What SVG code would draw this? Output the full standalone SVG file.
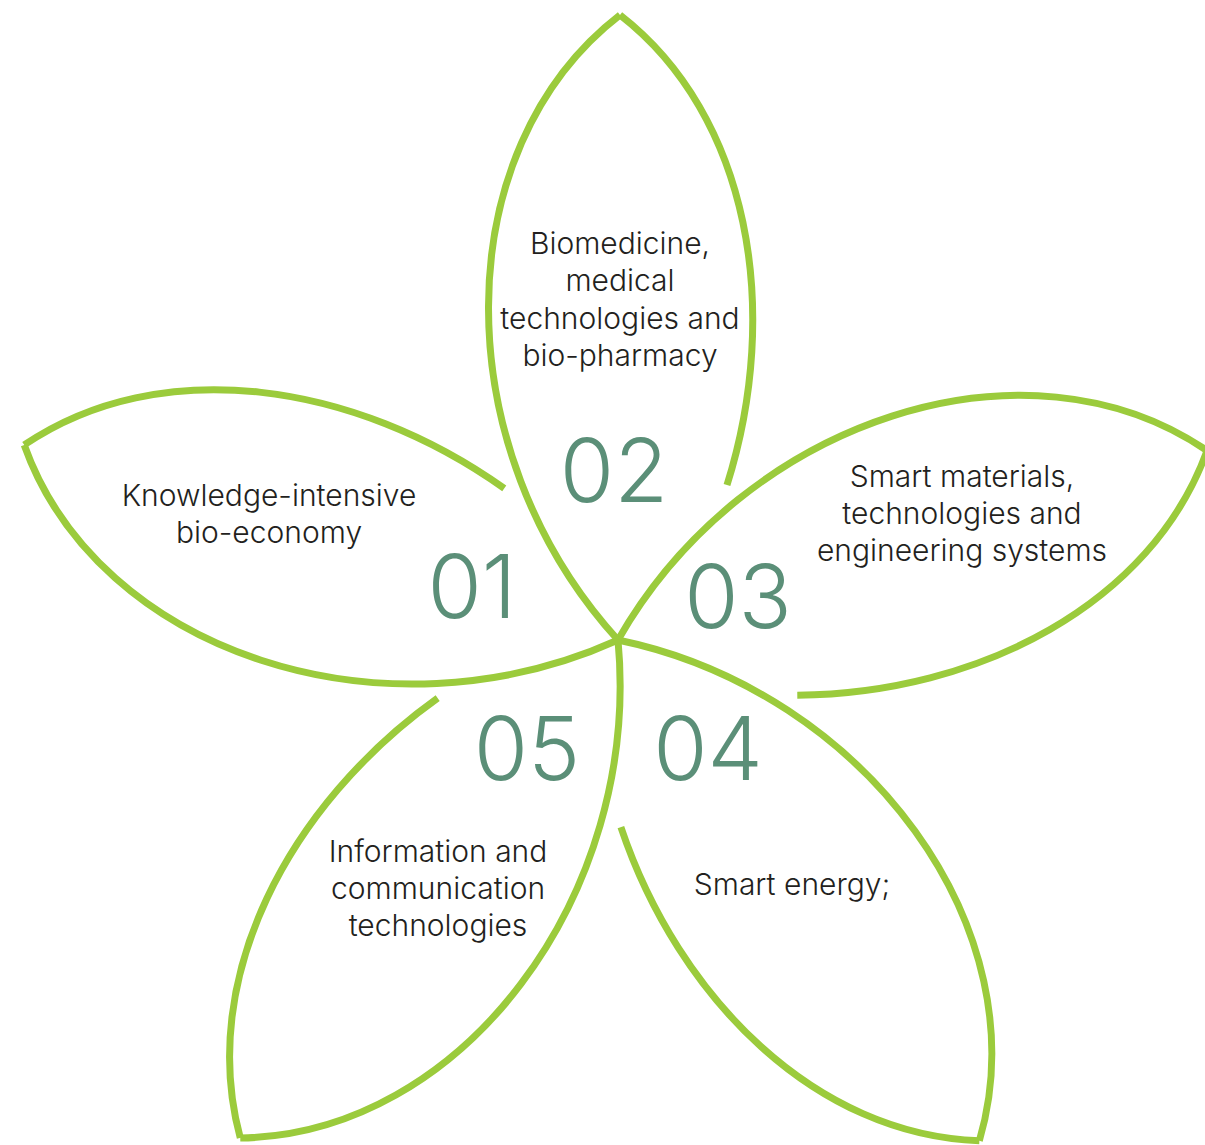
<svg xmlns="http://www.w3.org/2000/svg" width="1205" height="1145" viewBox="0 0 1205 1145">
<defs>
<style>
.stroke{fill:none;stroke:#9BCB3C;stroke-width:7;stroke-linecap:butt;stroke-linejoin:miter}
.lbl{font-family:Inter,"Liberation Sans",Arial,sans-serif;font-size:30px;font-weight:300;fill:#231F20;text-anchor:middle}
.num{font-family:Inter,"Liberation Sans",Arial,sans-serif;font-size:88px;font-weight:300;fill:#5B8F78;text-anchor:middle}
</style>
<g id="petal-shape">
<path class="stroke" d="M618,640 C445,450 445,150 620,15"/>
<path class="stroke" d="M620,15 C750,116 782,310 727,485"/>
</g>
</defs>
<rect width="1205" height="1145" fill="#ffffff"/>
<g id="connectors">
<use href="#petal-shape" transform="translate(618 640) rotate(-72) translate(-618 -640)"/>
<use href="#petal-shape"/>
<use href="#petal-shape" transform="translate(618 640) rotate(72) scale(0.99) translate(-618 -640)"/>
<use href="#petal-shape" transform="translate(618 640) rotate(144) scale(0.988) translate(-618 -640)"/>
<use href="#petal-shape" transform="translate(618 640) rotate(217) translate(-618 -640)"/>
</g>
<g id="node-01">
<text class="lbl" x="269" y="506">Knowledge-intensive</text>
<text class="lbl" x="269" y="543">bio-economy</text>
<text class="num" x="472" y="618">01</text>
</g>
<g id="node-02">
<text class="lbl" x="620" y="254">Biomedicine,</text>
<text class="lbl" x="620" y="291">medical</text>
<text class="lbl" x="620" y="329">technologies and</text>
<text class="lbl" x="620" y="366">bio-pharmacy</text>
<text class="num" x="614" y="502">02</text>
</g>
<g id="node-03">
<text class="lbl" x="962" y="487">Smart materials,</text>
<text class="lbl" x="962" y="524">technologies and</text>
<text class="lbl" x="962" y="561">engineering systems</text>
<text class="num" x="738" y="628">03</text>
</g>
<g id="node-04">
<text class="lbl" x="792" y="895">Smart energy;</text>
<text class="num" x="708" y="780">04</text>
</g>
<g id="node-05">
<text class="lbl" x="438" y="862">Information and</text>
<text class="lbl" x="438" y="899">communication</text>
<text class="lbl" x="438" y="936">technologies</text>
<text class="num" x="527" y="780">05</text>
</g>
</svg>
